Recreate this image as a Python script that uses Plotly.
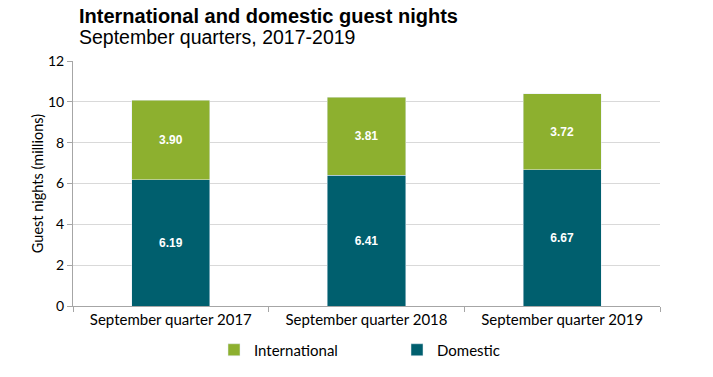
import plotly.graph_objects as go

categories = ["September quarter 2017", "September quarter 2018", "September quarter 2019"]
domestic = [6.19, 6.41, 6.67]
international = [3.90, 3.81, 3.72]

GREEN = "#8DB02F"
TEAL = "#005F6E"
font_ticks = "Lato, 'Open Sans', sans-serif"

W, H = 713, 377
# target screen coordinates of plot area
X0, X1, Y0, Y1 = 73, 660, 61, 306
L, T = X0, Y0
R, B = W - X1, H - Y1
PW = X1 - X0
PH = Y1 - Y0

fig = go.Figure()
fig.add_trace(go.Bar(
    x=categories, y=domestic, name="Domestic", marker_color=TEAL, legendrank=2,
    texttemplate="<b>%{y:.2f}</b>", textposition="inside", insidetextanchor="middle",
    textfont=dict(color="white", size=12, family="Arial, Liberation Sans"),
))
fig.add_trace(go.Bar(
    x=categories, y=international, name="International", marker_color=GREEN, legendrank=1,
    texttemplate="<b>%{y:.2f}</b>", textposition="inside", insidetextanchor="middle",
    textfont=dict(color="white", size=12, family="Arial, Liberation Sans"),
))

fig.update_layout(
    barmode="stack",
    bargap=0.6,
    width=W, height=H,
    margin=dict(l=L, r=R, t=T, b=B, autoexpand=False),
    plot_bgcolor="white", paper_bgcolor="white",
    uniformtext=dict(minsize=10, mode="show"),
    font=dict(family=font_ticks, size=13, color="#000000"),
    legend=dict(orientation="h", x=(214 - X0) / PW, xanchor="left", y=-(350 - Y1) / PH, yanchor="middle",
                entrywidth=138, font=dict(size=15, family=font_ticks), itemwidth=30,
                traceorder="normal"),
)
fig.add_annotation(text="<b>International and domestic guest nights</b>", xref="paper", yref="paper",
                   x=(77 - X0) / PW, y=1 + (Y0 - 15.5) / PH, xanchor="left", yanchor="middle",
                   showarrow=False, font=dict(family="Arial, Liberation Sans", size=20, color="black"))
fig.add_annotation(text="September quarters, 2017-2019", xref="paper", yref="paper",
                   x=(77 - X0) / PW, y=1 + (Y0 - 37) / PH, xanchor="left", yanchor="middle",
                   showarrow=False, font=dict(family="Arial, Liberation Sans", size=19.5, color="black"))

fig.update_xaxes(showline=True, linecolor="#a6a6a6", linewidth=1, ticks="outside", tickson="boundaries",
                 ticklen=5, tickcolor="#a6a6a6", showgrid=False, tickfont=dict(size=15), automargin=False)
fig.update_yaxes(range=[0, 12], dtick=2, showline=True, linecolor="#a6a6a6", linewidth=1,
                 ticks="outside", ticklen=5, tickcolor="#a6a6a6", gridcolor="#d9d9d9",
                 tickfont=dict(size=14), zeroline=False, automargin=False,
                 title=dict(text="Guest nights (millions)", font=dict(size=14.5), standoff=0))

fig.write_html("out.html", config={"displayModeBar": False},
               post_script="document.body.style.margin='0px';")
